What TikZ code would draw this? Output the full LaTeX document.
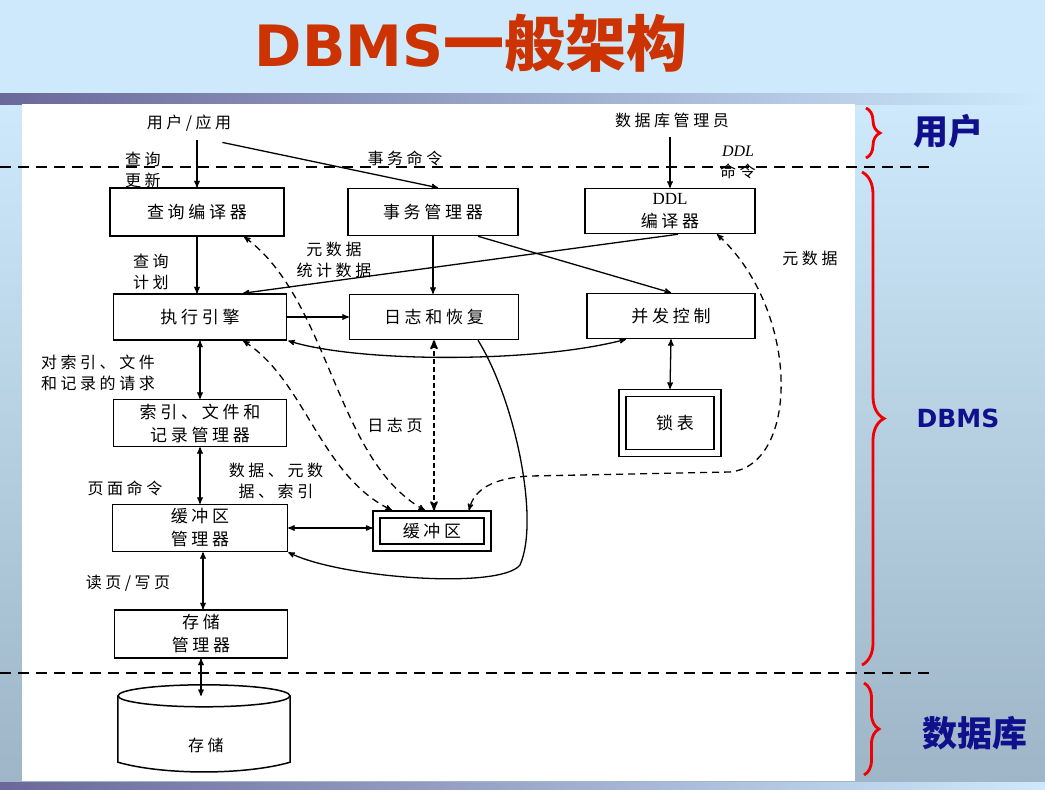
\documentclass[tikz,border=0pt]{standalone}
\usepackage{fontspec}
\setmainfont{Liberation Serif}
\newfontfamily\cjk{Noto Sans CJK SC}
\newfontfamily\dgm[LetterSpace=22]{Noto Sans CJK SC}
\newfontfamily\verd{DejaVu Sans}
\usetikzlibrary{arrows,positioning,shapes.geometric,decorations.pathreplacing}
\definecolor{TitleRed}{RGB}{204,51,0}
\definecolor{SideBlue}{RGB}{16,16,140}
\definecolor{SkyTop}{RGB}{205,233,251}
\definecolor{SkyBot}{RGB}{157,181,198}
\definecolor{BarDark}{RGB}{106,104,154}
\definecolor{BraceRed}{RGB}{240,0,0}

\tikzset{
  unit/.style={draw, line width=1.5pt, align=center, inner sep=0pt,
    font=\dgm\fontsize{17}{23}\selectfont},
  twin/.style={unit, double, double distance=5.5pt, line width=1.4pt, outer sep=4.2pt},
  note/.style={align=center, inner sep=1pt, font=\dgm\fontsize{16}{21}\selectfont},
  flow/.style={->, line width=1.3pt},
  both/.style={<->, line width=1.3pt},
  meta/.style={<->, line width=1.3pt, dash pattern=on 7pt off 5pt},
  logline/.style={<->, line width=2pt, dash pattern=on 5pt off 3pt},
  layer/.style={line width=2.2pt, dash pattern=on 11pt off 7pt},
  side/.style={BraceRed, line width=2.8pt, decorate, decoration={brace, amplitude=#1}},
  sidelbl/.style={SideBlue, font=\cjk\bfseries\fontsize{35}{35}\selectfont}
}

\begin{document}
\begin{tikzpicture}[x=1pt, y=-1pt, >=stealth']
    \useasboundingbox (0,0) rectangle (1045,790);
    % Slide
    \fill[SkyTop] (0,0) rectangle (1045,104);
    \shade[top color=SkyTop, bottom color=SkyBot] (0,104) rectangle (1045,790);
    \shade[left color=BarDark, right color=SkyTop] (0,93) rectangle (1045,104);
    \shade[left color=BarDark, right color=SkyTop] (0,782) rectangle (1045,790);
    \fill[white] (22,104) rectangle (855,781);
    \node[TitleRed, font=\verd\bfseries\fontsize{57}{57}\selectfont] (title) at (471,43)
      {DBMS{\cjk\bfseries\fontsize{61}{61}\selectfont 一般架构}};

    % Layers
    \draw[layer] (0,167) -- (930,167);
    \draw[layer] (0,673) -- (930,673);

    % Components
    \node[unit, minimum width=174pt, minimum height=48pt] (qc) at (197,212) {查询编译器};
    \node[unit, minimum width=170pt, minimum height=47pt] (tm) at (433,212) {事务管理器};
    \node[unit, minimum width=170pt, minimum height=45pt] (ddl) at (670,211) {{\rmfamily DDL}\\编译器};
    \node[unit, minimum width=173pt, minimum height=46pt] (ee) at (200,317) {执行引擎};
    \node[unit, minimum width=169pt, minimum height=45pt] (lr) at (434,317) {日志和恢复};
    \node[unit, minimum width=168pt, minimum height=45pt] (cc) at (671,316) {并发控制};
    \node[twin, minimum width=95pt, minimum height=60pt] (locks) at (670,423) {\hspace{10pt}\raisebox{-6pt}{锁表}};
    \node[unit, minimum width=173pt, minimum height=47pt] (im) at (200,423) {索引、文件和\\记录管理器};
    \node[unit, minimum width=175pt, minimum height=47pt] (bm) at (200,528) {缓冲区\\管理器};
    \node[twin, minimum width=111pt, minimum height=33pt] (buf) at (432,531) {缓冲区};
    \node[unit, minimum width=173pt, minimum height=48pt] (sm) at (201,634) {存储\\管理器};
    % Disk
    \node[minimum width=172pt, minimum height=66pt, inner sep=0pt] (disk) at (204,729) {};
    \draw[line width=1.5pt] (disk.north west) -- (disk.south west)
      .. controls +(45,13) and +(-45,13) .. (disk.south east) -- (disk.north east);
    \draw[line width=1.5pt] (disk.north) ellipse (86 and 11);
    \node[note] (disklbl) at (206,745) {存储};

    % Labels
    \node[note] (user) at (189,123) {用户/应用};
    \node[note] (dba) at (672,120) {数据库管理员};
    \node[note] (qlbl) at (143,170) {查询\\更新};
    \node[note] (txlbl) at (405,158) {事务命令};
    \node[note] (ddllbl) at (738,162) {{\rmfamily\itshape DDL}\\命令};
    \node[note] (plan) at (151,272) {查询\\计划};
    \node[note] (stat) at (334,260) {元数据\\统计数据};
    \node[note] (meta) at (810,258) {元数据};
    \node[note, align=left, anchor=west] (req) at (40,373) {对索引、文件\\和记录的请求};
    \node[note] (logpg) at (395,425) {日志页};
    \node[note] (dmi) at (276,481) {数据、元数\\据、索引};
    \node[note] (pgcmd) at (125,488) {页面命令};
    \node[note] (rw) at (128,583) {读页/写页};

    % Commands
    \draw[flow, shorten <=8pt] (qc.north |- user.south) -- (qc.north);
    \draw[flow] ([shift={(-10pt,-10pt)}]user.south east) -- ([xshift=5pt]tm.north);
    \draw[flow, shorten <=8pt] (ddl.north |- dba.south) -- (ddl.north);
    \draw[flow] (qc.south) -- (qc.south |- ee.north);
    \draw[flow] (tm.south) -- (tm.south |- lr.north);
    \draw[flow] ([xshift=45pt]tm.south) -- (cc.north);
    \draw[flow] ([xshift=8pt]ddl.south) -- ([xshift=43pt]ee.north);
    \draw[flow] (ee.east) -- (lr.west);
    \draw[both] ([xshift=1pt]ee.south east) .. controls +(70,22) and +(-90,24) .. ([xshift=-45pt]cc.south);
    % Storage path
    \draw[both] (ee.south) -- (ee.south |- im.north);
    \draw[both] (im.south) -- (im.south |- bm.north);
    \draw[both] (bm.east) -- (bm.east -| buf.west);
    \draw[both] ([xshift=3pt]bm.south) -- ([xshift=3pt]bm.south |- sm.north);
    \draw[both] (sm.south) -- (sm.south |- disk.north);
    \draw[both] (cc.south) -- (locks.north);
    \draw[logline] (lr.south) -- (lr.south |- buf.north);
    \draw[flow] ([xshift=44pt]lr.south) .. controls (515,400) and (540,520) .. (520,565)
      .. controls (500,590) and (340,578) .. (bm.south east);
    % Metadata
    \draw[meta] ([xshift=47pt]qc.south) .. controls (330,300) and (335,460) .. ([xshift=-7pt]buf.north);
    \draw[meta] ([xshift=43pt]ee.south) .. controls (305,380) and (320,475) .. ([xshift=-40pt]buf.north);
    \draw[meta] ([xshift=47pt]ddl.south) .. controls (800,310) and (800,465) .. (730,472) -- (530,476)
      .. controls (492,478) and (474,490) .. ([xshift=37pt]buf.north);

    % Braces
    \draw[side=14pt] (866,108) -- (866,158);
    \draw[side=22pt] (862,172) -- (862,665);
    \draw[side=15pt] (864,683) -- (864,775);
    \node[sidelbl] (ulay) at (948,131) {用户};
    \node[SideBlue, font=\verd\bfseries\fontsize{25}{25}\selectfont] (dlay) at (958,418) {DBMS};
    \node[sidelbl] (blay) at (975,733) {数据库};
\end{tikzpicture}
\end{document}
